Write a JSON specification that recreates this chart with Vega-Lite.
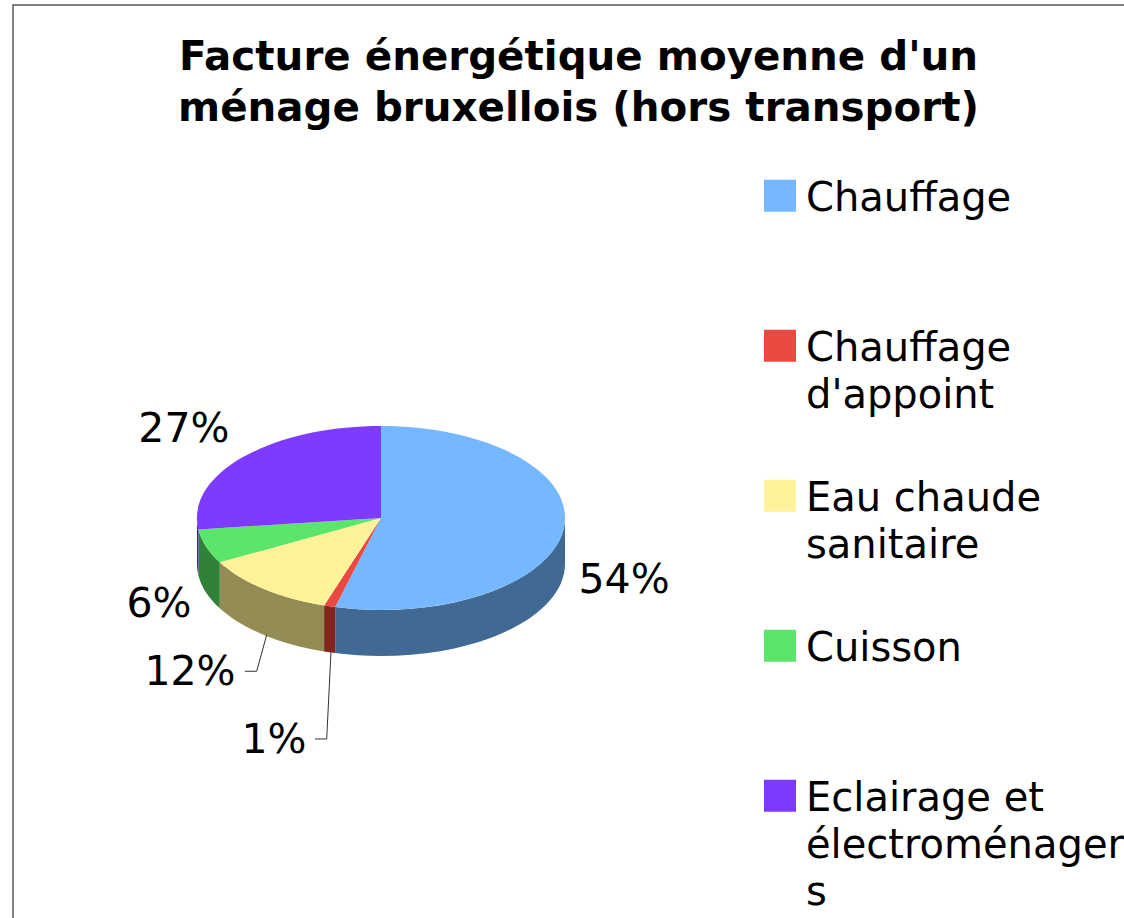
{
"$schema":"https://vega.github.io/schema/vega-lite/v6.json",
"width":1113,"height":914,
"autosize":{"type":"none"},
"padding":{"left":13,"top":5,"right":0,"bottom":0},
"background":"white",
"view":{"stroke":"#5a5a5a","strokeWidth":1.5,"fill":"white"},
"title":{"text":["Facture énergétique moyenne d'un","ménage bruxellois (hors transport)"],"font":"DejaVu Sans","fontWeight":"bold","fontSize":40.4,"lineHeight":51,"color":"black","anchor":"middle","frame":"group","dx":9,"offset":-124},
"data":{"values":[
{"category":"Chauffage","value":0.54},
{"category":"Chauffage d'appoint","value":0.01},
{"category":"Eau chaude sanitaire","value":0.12},
{"category":"Cuisson","value":0.06},
{"category":"Eclairage et électroménagers","value":0.27}
]},
"encoding":{
"x":{"datum":0,"type":"quantitative","axis":null,"scale":{"domain":[-2,4.049],"nice":false,"zero":false}},
"y":{"datum":0,"type":"quantitative","axis":null,"scale":{"domain":[4.359,-5.576],"nice":false,"zero":false}}
},
"layer":[
{"mark":{"type":"point","filled":true,"size":0,"shape":"square","opacity":1,"strokeWidth":0},
"encoding":{
"color":{"field":"category","type":"nominal","sort":null,"scale":{"domain":["Chauffage","Chauffage d'appoint","Eau chaude sanitaire","Cuisson","Eclairage et électroménagers"],"range":["#75b8ff","#e84a42","#fff39a","#5be56a","#7e3bff"]},
"legend":{"orient":"none","legendX":747,"legendY":116,"title":null,"symbolType":"square","symbolSize":1024,"symbolStrokeWidth":0,"symbolOpacity":1,"labelFont":"DejaVu Sans","labelFontSize":40,"labelColor":"black","labelLimit":400,"labelOffset":6,"clipHeight":149.5,"rowPadding":0,"labelBaseline":"alphabetic","labelExpr":"datum.label=='Chauffage d\\'appoint'?['Chauffage','d\\'appoint']:datum.label=='Eau chaude sanitaire'?['Eau chaude','sanitaire']:datum.label=='Eclairage et électroménagers'?['Eclairage et','électroménager','s']:datum.label",
"encoding":{"symbols":{"size":{"value":1024}},"labels":{"dy":{"value":15},"lineHeight":{"value":47}}}}}
}},
{"mark":{"type":"point","filled":true,"size":4,"opacity":1,"strokeWidth":0},
"encoding":{
"shape":{"field":"category","type":"nominal","legend":null,"scale":{"domain":["Chauffage","Chauffage d'appoint","Eau chaude sanitaire","Cuisson","Eclairage et électroménagers"],"range":[
"M184,0A184,92 0 0 1 -45.8,89.1L-45.8,135.1A184,92 0 0 0 184,46Z",
"M-45.8,89.1A184,92 0 0 1 -56.9,87.5L-56.9,133.5A184,92 0 0 0 -45.8,135.1Z",
"M-56.9,87.5A184,92 0 0 1 -161.2,44.3L-161.2,90.3A184,92 0 0 0 -56.9,133.5Z",
"M-161.2,44.3A184,92 0 0 1 -182.6,11.5L-182.6,57.5A184,92 0 0 0 -161.2,90.3Z",
"M-182.6,11.5A184,92 0 0 1 -184,0L-184,46A184,92 0 0 0 -182.6,57.5Z"]}},
"color":{"field":"category","type":"nominal","legend":null,"scale":{"domain":["Chauffage","Chauffage d'appoint","Eau chaude sanitaire","Cuisson","Eclairage et électroménagers"],"range":["#406a94","#832420","#938d55","#2f8238","#4a1e99"]}}
}},
{"mark":{"type":"point","filled":true,"size":4,"opacity":1,"strokeWidth":0},
"encoding":{
"shape":{"field":"category","type":"nominal","legend":null,"scale":{"domain":["Chauffage","Chauffage d'appoint","Eau chaude sanitaire","Cuisson","Eclairage et électroménagers"],"range":[
"M0,0L0,-92A184,92 0 1 1 -45.8,89.1Z",
"M0,0L-45.8,89.1A184,92 0 0 1 -56.9,87.5Z",
"M0,0L-56.9,87.5A184,92 0 0 1 -161.2,44.3Z",
"M0,0L-161.2,44.3A184,92 0 0 1 -182.6,11.5Z",
"M0,0L-182.6,11.5A184,92 0 0 1 0,-92Z"]}},
"color":{"field":"category","type":"nominal","legend":null,"scale":{"domain":["Chauffage","Chauffage d'appoint","Eau chaude sanitaire","Cuisson","Eclairage et électroménagers"],"range":["#75b8ff","#e84a42","#fff39a","#5be56a","#7e3bff"]}}
}},
{"transform":[{"filter":"datum.category=='Eau chaude sanitaire'||datum.category=='Chauffage d\\'appoint'"}],
"mark":{"type":"point","filled":false,"size":4,"opacity":1,"strokeWidth":1,"color":"#333333"},
"encoding":{"shape":{"field":"category","type":"nominal","legend":null,"scale":{"domain":["Chauffage d'appoint","Eau chaude sanitaire"],"range":["M-50,133.7L-54.3,221L-66,221","M-114.3,117L-124.3,153.3L-136,153.3"]}}}},
{"transform":[{"filter":"datum.category=='Chauffage'"}],"mark":{"type":"text","font":"DejaVu Sans","fontSize":41,"color":"black"},"encoding":{"x":{"datum":1.321},"y":{"datum":0.685},"text":{"field":"value","type":"quantitative","format":".0%"}}},
{"transform":[{"filter":"datum.category=='Chauffage d\\'appoint'"}],"mark":{"type":"text","font":"DejaVu Sans","fontSize":41,"color":"black"},"encoding":{"x":{"datum":-0.582},"y":{"datum":2.424},"text":{"field":"value","type":"quantitative","format":".0%"}}},
{"transform":[{"filter":"datum.category=='Eau chaude sanitaire'"}],"mark":{"type":"text","font":"DejaVu Sans","fontSize":41,"color":"black"},"encoding":{"x":{"datum":-1.038},"y":{"datum":1.685},"text":{"field":"value","type":"quantitative","format":".0%"}}},
{"transform":[{"filter":"datum.category=='Cuisson'"}],"mark":{"type":"text","font":"DejaVu Sans","fontSize":41,"color":"black"},"encoding":{"x":{"datum":-1.207},"y":{"datum":0.946},"text":{"field":"value","type":"quantitative","format":".0%"}}},
{"transform":[{"filter":"datum.category=='Eclairage et électroménagers'"}],"mark":{"type":"text","font":"DejaVu Sans","fontSize":41,"color":"black"},"encoding":{"x":{"datum":-1.071},"y":{"datum":-0.956},"text":{"field":"value","type":"quantitative","format":".0%"}}}
],
"resolve":{"scale":{"shape":"independent","color":"independent"}}
}
